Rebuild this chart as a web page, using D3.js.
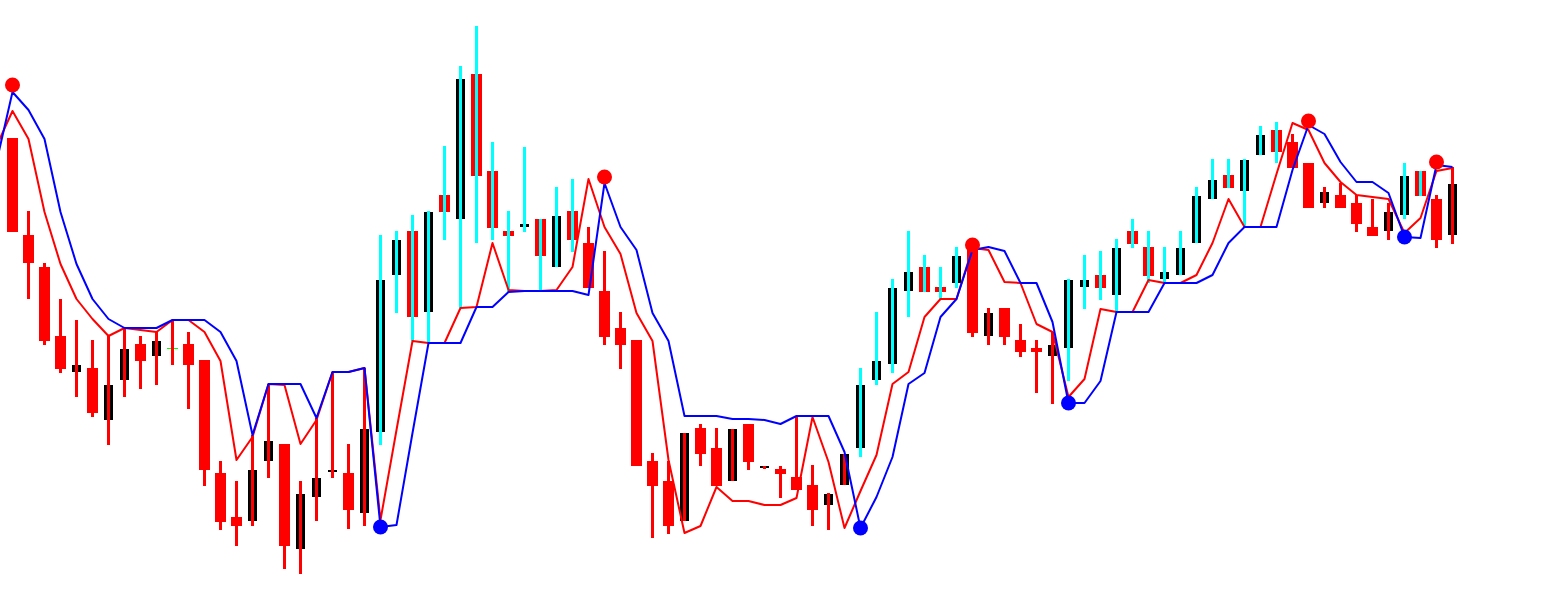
<!DOCTYPE html>
<html>
<head>
<meta charset="utf-8">
<script src="https://cdn.jsdelivr.net/npm/d3@7"></script>
<style>
  html, body { margin: 0; padding: 0; background: #fff; overflow: hidden; }
</style>
</head>
<body>
<svg id="chart" width="1542" height="601"></svg>
<script>
// OHLC per bar (bar 0 .. 90)
const opens = [462,365,333,264,228,232,180,220,256,244,252,256,240,127,83,79,139,156,51,103,128,127,87,168,325,369,288,405,381,526,
  429,369,373,381,333,389,357,309,272,260,139,119,79,172,152,119,176,132,131,123,115,95,115,152,220,236,309,333,313,317,
  353,264,292,260,252,244,252,313,325,305,369,353,321,325,357,401,425,409,445,470,458,437,397,405,397,373,369,385,429,401,365];
const highs = [462,389,337,301,280,260,264,272,264,268,280,268,240,139,119,165,216,156,119,182,228,156,232,365,369,385,389,454,534,574,
  458,389,453,381,413,421,373,349,288,260,147,139,167,176,172,171,176,134,134,183,135,107,146,232,288,321,369,345,333,353,
  353,292,292,276,260,268,321,345,349,361,381,369,353,369,413,441,441,441,474,478,466,437,413,417,405,401,397,437,429,405,433];
const lows = [368,301,255,227,203,183,155,203,211,215,235,191,114,70,54,74,122,31,26,79,122,71,74,155,287,259,257,360,292,357,
  360,308,368,308,333,348,312,255,231,134,62,66,79,134,114,119,130,131,102,110,74,70,115,143,215,227,283,308,300,312,
  263,255,255,243,207,196,219,291,300,288,352,317,317,325,357,401,412,373,445,437,432,392,392,392,368,364,360,381,404,352,356];
const closes = [368,337,259,231,235,187,215,251,239,259,252,235,130,78,74,130,159,54,106,122,130,90,171,320,360,283,388,388,521,424,
  372,364,376,344,384,360,312,263,255,134,114,74,167,146,114,171,138,134,126,110,90,106,146,215,239,312,328,308,308,344,
  267,287,263,248,248,255,320,320,312,352,356,324,328,352,404,420,412,440,465,448,432,392,408,392,376,364,388,424,404,360,416];

// bars whose wick is painted in the up-trend colour (first, last)
const upRuns = [[23, 35], [53, 59], [66, 79], [87, 88]];

// signal line and its lagging partner, bar -1 .. 90
const fastLine = [454,489,461,388,336,301,281,264,272,270,268,280,280,268,239,140,163,216,215,156,180,228,228,232,80,170,259,257,257,292,293,
  357,310,309,309,310,333,421,373,346,287,259,140,67,74,113,99,99,95,95,102,183,138,72,109,145,216,228,283,301,301,
  352,350,318,317,276,268,203,221,291,288,288,320,317,317,325,357,401,373,373,426,477,470,437,418,405,403,401,367,382,429,432];
const slowLine = [438,508,490,461,388,336,301,281,272,272,272,280,280,280,268,239,165,216,216,216,182,228,228,232,73,75,167,257,257,257,293,
  293,308,309,309,309,309,305,417,373,350,287,259,184,184,184,181,181,180,176,184,184,184,148,72,103,143,216,227,283,301,
  350,353,349,317,317,278,197,197,219,288,288,288,317,317,317,325,357,373,373,373,430,475,466,438,418,418,407,363,362,435,433];

// turning-point markers
const topMarks = [[0, 515], [37, 423], [60, 355], [81, 479], [89, 438]];
const bottomMarks = [[23, 73], [53, 72], [66, 197], [87, 363]];

const svg = d3.select('#chart');

const x = d3.scaleLinear().domain([0, 90]).range([12.5, 1452.5]);
const y = d3.scaleLinear().domain([0, 600]).range([600, 0]);

const isUp = (i) => upRuns.some(([a, b]) => i >= a && i <= b);

const bars = opens.map((o, i) => ({ i, o, h: highs[i], l: lows[i], c: closes[i] }));

// bodies: black = rising bar, red = falling bar, green tick = unchanged
const bodies = svg.append('g').attr('shape-rendering', 'crispEdges');
bars.forEach((d) => {
	const top = y(Math.max(d.o, d.c));
	const bot = y(Math.min(d.o, d.c));
	if (d.o === d.c) {
		bodies.append('rect')
			.attr('x', x(d.i) - 5.5).attr('y', top)
			.attr('width', 11).attr('height', 1)
			.attr('fill', '#00ff00');
	} else if (d.c > d.o) {
		bodies.append('rect')
			.attr('x', x(d.i) - 4.5).attr('y', top)
			.attr('width', 9).attr('height', Math.max(2, bot - top))
			.attr('fill', '#000');
	} else {
		bodies.append('rect')
			.attr('x', x(d.i) - 5.5).attr('y', top)
			.attr('width', 11).attr('height', Math.max(2, bot - top))
			.attr('fill', '#ff0000');
	}
});

// wicks on top of the bodies, coloured by trend
svg.append('g')
	.attr('shape-rendering', 'crispEdges')
	.selectAll('rect')
	.data(bars)
	.join('rect')
	.attr('x', (d) => x(d.i) - 1.5)
	.attr('y', (d) => y(d.h))
	.attr('width', 3)
	.attr('height', (d) => Math.max(1, y(d.l) - y(d.h)))
	.attr('fill', (d) => (isUp(d.i) ? '#00ffff' : '#ff0000'));

const line = d3.line()
	.x((d, i) => x(i - 1))
	.y((d) => y(d));

svg.append('path')
	.datum(fastLine)
	.attr('d', line)
	.attr('fill', 'none')
	.attr('stroke', '#ff0000')
	.attr('stroke-width', 2)
	.attr('stroke-linejoin', 'round');

svg.append('path')
	.datum(slowLine)
	.attr('d', line)
	.attr('fill', 'none')
	.attr('stroke', '#0000ff')
	.attr('stroke-width', 2)
	.attr('stroke-linejoin', 'round');

svg.append('g')
	.selectAll('circle')
	.data(topMarks)
	.join('circle')
	.attr('cx', (d) => x(d[0]))
	.attr('cy', (d) => y(d[1]))
	.attr('r', 7.5)
	.attr('fill', '#ff0000');

svg.append('g')
	.selectAll('circle')
	.data(bottomMarks)
	.join('circle')
	.attr('cx', (d) => x(d[0]))
	.attr('cy', (d) => y(d[1]))
	.attr('r', 7.5)
	.attr('fill', '#0000ff');
</script>
</body>
</html>
